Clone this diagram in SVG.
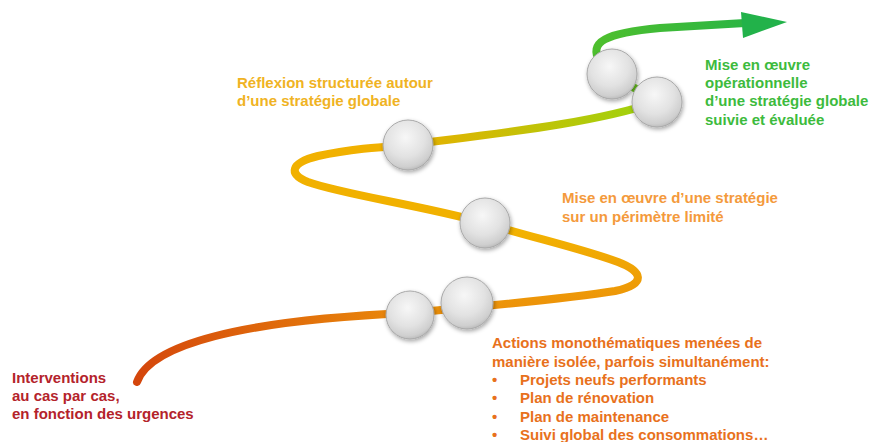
<svg xmlns="http://www.w3.org/2000/svg" width="875" height="442" viewBox="0 0 875 442">
<defs>
<style>
.t{font-family:"Liberation Sans",Arial,sans-serif;font-weight:bold;font-size:15px}
.curve{fill:none;stroke-width:8;stroke-linecap:round}
.node{fill:url(#ball);stroke:#a9a9a9;stroke-width:1;filter:url(#sh)}
</style>
<radialGradient id="ball" cx="45%" cy="35%" r="65%">
<stop offset="0" stop-color="#f7f7f7"/>
<stop offset="0.6" stop-color="#e2e2e2"/>
<stop offset="0.9" stop-color="#cfcfcf"/>
<stop offset="1" stop-color="#bdbdbd"/>
</radialGradient>
<filter id="sh" x="-30%" y="-30%" width="170%" height="170%">
<feDropShadow dx="1" dy="2" stdDeviation="2" flood-color="#000" flood-opacity="0.35"/>
</filter>
<linearGradient id="gA" gradientUnits="userSpaceOnUse" x1="137" y1="382" x2="410" y2="312">
<stop offset="0" stop-color="#d4460c"/><stop offset="1" stop-color="#ea8a0a"/>
</linearGradient>
<linearGradient id="gB" gradientUnits="userSpaceOnUse" x1="0" y1="312" x2="0" y2="223">
<stop offset="0" stop-color="#ec900a"/><stop offset="1" stop-color="#f3b600"/>
</linearGradient>
<linearGradient id="gD" gradientUnits="userSpaceOnUse" x1="408" y1="0" x2="656" y2="0">
<stop offset="0" stop-color="#e8b000"/><stop offset="1" stop-color="#9cd40e"/>
</linearGradient>
<linearGradient id="gF" gradientUnits="userSpaceOnUse" x1="600" y1="0" x2="787" y2="0">
<stop offset="0" stop-color="#4dbf2e"/><stop offset="1" stop-color="#22b24a"/>
</linearGradient>
</defs>
<rect width="875" height="442" fill="#fff"/>
<g id="connectors">
<path class="curve" stroke="url(#gA)" d="M137,382 C150,345 240,320 410,313"/>
<path class="curve" stroke="url(#gB)" d="M410,313 C480,306 560,300 615,291 C648,284 642,271 618,262 C580,248 530,237 485,223"/>
<path class="curve" stroke="#f1b100" d="M485,223 C420,205 345,195 308,182 C288,174 290,163 318,156 C350,149 380,147 408,145"/>
<path class="curve" stroke="url(#gD)" d="M408,145 C500,133 590,124 657,102"/>
<path class="curve" stroke="#6cc820" d="M657,102 L612,74"/>
<path class="curve" stroke="url(#gF)" d="M600,62 C588,42 605,33 660,28 L745,23"/>
<polygon fill="#22b24a" points="741,12 787,22 743,38"/>
</g>
<g id="n1"><circle class="node" cx="410" cy="315" r="24"/></g>
<g id="n2"><circle class="node" cx="467" cy="303" r="26"/></g>
<g id="n3"><circle class="node" cx="485" cy="223" r="25"/></g>
<g id="n4"><circle class="node" cx="408" cy="145" r="25"/></g>
<g id="n6"><circle class="node" cx="612" cy="74" r="25"/></g>
<g id="n5"><circle class="node" cx="657" cy="102" r="25"/></g>
<g id="label-interventions" class="t" fill="#b4232b">
<text x="12" y="383">Interventions</text>
<text x="12" y="401">au cas par cas,</text>
<text x="12" y="419">en fonction des urgences</text>
</g>
<g id="label-reflexion" class="t" fill="#f0b323">
<text x="237" y="88">Réflexion structurée autour</text>
<text x="237" y="106">d’une stratégie globale</text>
</g>
<g id="label-perimetre" class="t" fill="#f49a3c">
<text x="562" y="203">Mise en œuvre d’une stratégie</text>
<text x="562" y="222">sur un périmètre limité</text>
</g>
<g id="label-actions" class="t" fill="#e8711c">
<text x="492" y="348">Actions monothématiques menées de</text>
<text x="492" y="367">manière isolée, parfois simultanément:</text>
<text x="492" y="385">•</text><text x="520" y="385">Projets neufs performants</text>
<text x="492" y="403">•</text><text x="520" y="403">Plan de rénovation</text>
<text x="492" y="422">•</text><text x="520" y="422">Plan de maintenance</text>
<text x="492" y="440">•</text><text x="520" y="440">Suivi global des consommations…</text>
</g>
<g id="label-operationnelle" class="t" fill="#3dbb3d">
<text x="705" y="70">Mise en œuvre</text>
<text x="705" y="88">opérationnelle</text>
<text x="705" y="106">d’une stratégie globale</text>
<text x="705" y="125">suivie et évaluée</text>
</g>
</svg>
